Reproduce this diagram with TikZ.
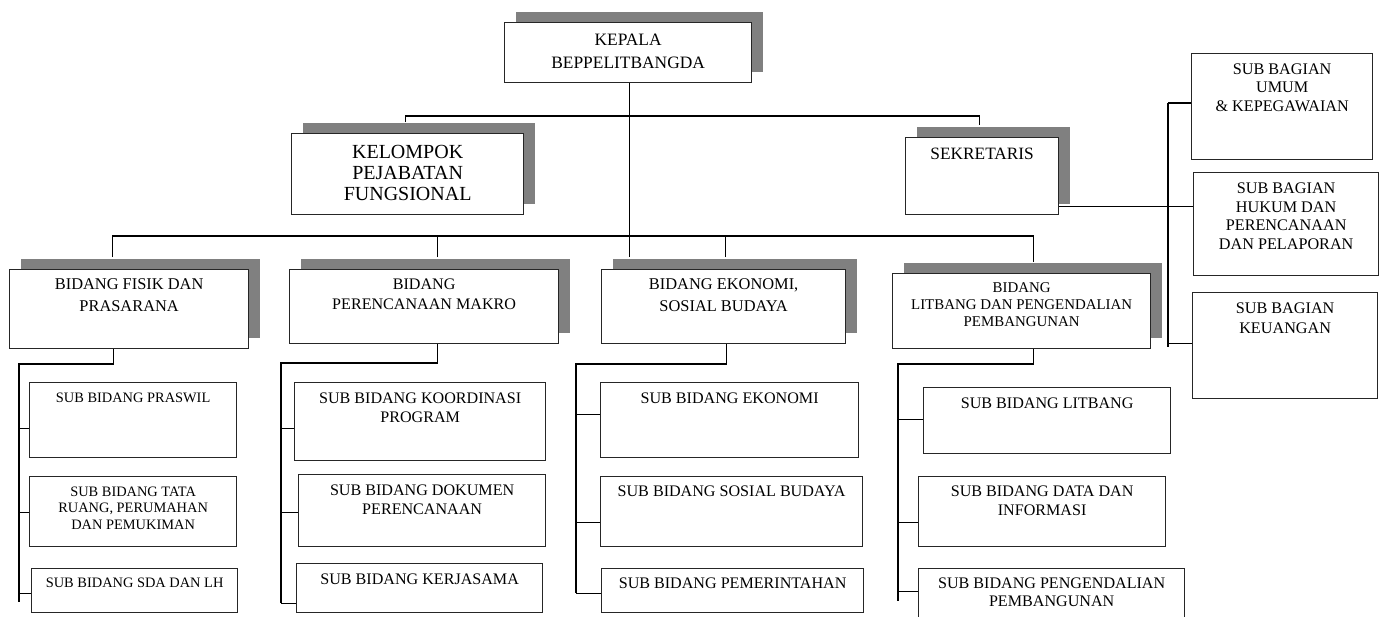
\documentclass[tikz,border=0pt]{standalone}
\usepackage{fontspec}
\setmainfont{Liberation Serif}
\usetikzlibrary{shadows,calc}
\newcommand{\boxtext}[4]{\parbox[t][#2pt][t]{#1pt}{\centering\vspace*{#3pt}#4}}

\begin{document}
\begin{tikzpicture}[x=1pt,y=-1pt,line width=1.1pt]
\tikzstyle{office}=[draw=black!85, line width=1.3pt, fill=white, inner sep=0pt, anchor=north west, font=\fontsize{16.1}{19.5}\selectfont]
\tikzstyle{raised}=[drop shadow={shadow xshift=11pt, shadow yshift=11pt, fill=black!50, opacity=1}]
\useasboundingbox (0,0) rectangle (1384,616);
\node[office, raised, font=\fontsize{17.4}{23}\selectfont] (kepala) at (504,22) {\boxtext{247}{60}{11}{KEPALA\\BEPPELITBANGDA}};
\node[office, raised, font=\fontsize{20}{21}\selectfont] (kelompok) at (291,133) {\boxtext{232}{81}{12}{KELOMPOK\\PEJABATAN\\FUNGSIONAL}};
\node[office, raised, font=\fontsize{17.3}{20}\selectfont] (sekretaris) at (905,137) {\boxtext{153}{77}{10}{SEKRETARIS}};
\node[office, font=\fontsize{16.2}{18.5}\selectfont] (umum) at (1191,53) {\boxtext{181}{106}{10}{SUB BAGIAN\\UMUM\\\& KEPEGAWAIAN}};
\node[office, font=\fontsize{16.2}{18.7}\selectfont] (hukum) at (1193,172) {\boxtext{185}{103}{10}{SUB BAGIAN\\HUKUM DAN\\PERENCANAAN\\DAN PELAPORAN}};
\node[office, font=\fontsize{16.2}{20}\selectfont] (keuangan) at (1192,292) {\boxtext{185}{106}{10}{SUB BAGIAN\\KEUANGAN}};
\node[office, raised, font=\fontsize{16.4}{22}\selectfont] (fisik) at (9,269) {\boxtext{239}{79}{9}{BIDANG FISIK DAN\\PRASARANA}};
\node[office, raised, font=\fontsize{16.1}{20}\selectfont] (makro) at (289,269) {\boxtext{269}{74}{9}{BIDANG\\PERENCANAAN MAKRO}};
\node[office, raised, font=\fontsize{16.4}{22}\selectfont] (ekonomi) at (601,269) {\boxtext{244}{74}{9}{BIDANG EKONOMI,\\SOSIAL BUDAYA}};
\node[office, raised, font=\fontsize{14.9}{17}\selectfont] (litbang) at (892,273) {\boxtext{258}{75}{9}{BIDANG\\LITBANG DAN PENGENDALIAN\\PEMBANGUNAN}};
\node[office, font=\fontsize{14.4}{16.5}\selectfont] (praswil) at (29,382) {\boxtext{207}{75}{10}{SUB BIDANG PRASWIL}};
\node[office, font=\fontsize{14.4}{16.5}\selectfont] (tataruang) at (29,476) {\boxtext{207}{70}{10}{SUB BIDANG TATA\\RUANG, PERUMAHAN\\DAN PEMUKIMAN}};
\node[office, font=\fontsize{14.4}{16.5}\selectfont] (sda) at (31,568) {\boxtext{206}{44}{9}{SUB BIDANG SDA DAN LH}};
\node[office] (koordinasi) at (294,382) {\boxtext{251}{78}{10}{SUB BIDANG KOORDINASI\\PROGRAM}};
\node[office] (dokumen) at (298,474) {\boxtext{247}{72}{10}{SUB BIDANG DOKUMEN\\PERENCANAAN}};
\node[office] (kerjasama) at (296,563) {\boxtext{246}{49}{10}{SUB BIDANG KERJASAMA}};
\node[office] (subekonomi) at (600,382) {\boxtext{258}{75}{10}{SUB BIDANG EKONOMI}};
\node[office] (sosbud) at (600,476) {\boxtext{262}{70}{9}{SUB BIDANG SOSIAL BUDAYA}};
\node[office] (pemerintahan) at (601,568) {\boxtext{262}{44}{9}{SUB BIDANG PEMERINTAHAN}};
\node[office] (sublitbang) at (923,387) {\boxtext{247}{66}{10}{SUB BIDANG LITBANG}};
\node[office, font=\fontsize{16.1}{19}\selectfont] (datainfo) at (918,476) {\boxtext{247}{70}{9}{SUB BIDANG DATA DAN\\INFORMASI}};
\node[office, font=\fontsize{16.1}{18}\selectfont] (pengendalian) at (918,568) {\boxtext{266}{58}{9}{SUB BIDANG PENGENDALIAN\\PEMBANGUNAN}};
\coordinate (top) at (0,116);
\coordinate (bar) at (0,236);
\draw ($(kepala.south)+(1.5,0)$) -- ($(kepala.south |- ekonomi.north)+(1.5,-12)$);
\coordinate (kelompok-in) at ($(kelompok.north)+(-2,-11)$);
\coordinate (sekretaris-in) at ($(sekretaris.north)+(-2.5,-12)$);
\draw (kelompok-in) -- (kelompok-in |- top) -- (sekretaris-in |- top) -- (sekretaris-in);
\foreach \b/\dx/\dy in {fisik/-16.5/-12, makro/13.5/-12, ekonomi/2/-12, litbang/12/-11}
  \coordinate (\b-in) at ($(\b.north)+(\dx,\dy)$);
\draw (fisik-in) -- (fisik-in |- bar) -- (litbang-in |- bar) -- (litbang-in);
\draw (makro-in) -- (makro-in |- bar);
\draw (ekonomi-in) -- (ekonomi-in |- bar);
\coordinate (fisik-rail) at (19,364);
\coordinate (makro-rail) at (281,363);
\coordinate (ekonomi-rail) at (576,364);
\coordinate (litbang-rail) at (898,364);
\foreach \b/\dx/\foot in {fisik/-15.5/602, makro/13.5/603, ekonomi/3/593, litbang/12/601}
  \draw ($(\b.south)+(\dx,0)$) |- (\b-rail) -- (\b-rail |- 0,\foot);
\foreach \s/\b/\dy in {praswil/fisik/8.5, tataruang/fisik/1, sda/fisik/3, koordinasi/makro/7, dokumen/makro/2, kerjasama/makro/15.5, subekonomi/ekonomi/-5.5, sosbud/ekonomi/11, pemerintahan/ekonomi/3, sublitbang/litbang/-1, datainfo/litbang/11, pengendalian/litbang/-6}
  \draw ($(\s.west)+(0,\dy)$) coordinate (tick) -- (tick -| \b-rail);
\coordinate (bagian-rail) at (1168,103);
\coordinate (bagian-foot) at (1168,347);
\draw (bagian-rail) -- (bagian-foot);
\draw (bagian-rail) -- (bagian-rail -| umum.west);
\draw ($(keuangan.west)+(0,-2)$) coordinate (tick) -- (tick -| bagian-rail);
\draw ($(sekretaris.south east)+(0,-9)$) coordinate (tick) -- (tick -| hukum.west);
\end{tikzpicture}
\end{document}
